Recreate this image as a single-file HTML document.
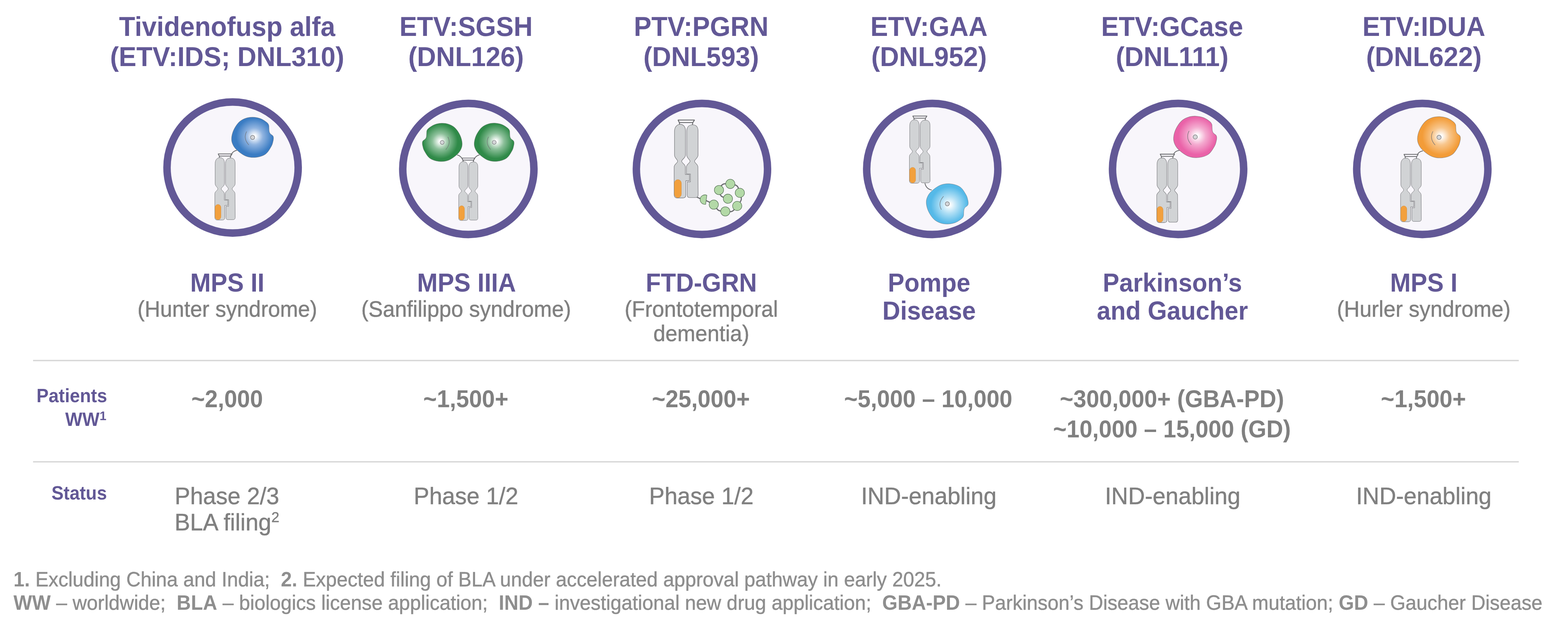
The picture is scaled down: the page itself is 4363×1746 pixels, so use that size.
<!DOCTYPE html>
<html lang="en"><head><meta charset="utf-8"><title>Denali pipeline</title>
<style>
html,body{margin:0;padding:0;background:#ffffff;}
body{width:4363px;height:1746px;position:relative;overflow:hidden;font-family:"Liberation Sans",Arial,Helvetica,sans-serif;}
.g{position:absolute;left:0;top:0;}
.t{position:absolute;white-space:nowrap;}
.ln{display:inline-block;}
.rule{position:absolute;left:92px;width:4134px;height:4.4px;background:#d9d9d9;}
sup{line-height:0;}
.rg{-webkit-text-stroke:0.7px currentColor;}
.rg b{-webkit-text-stroke:0;}
.s1{font-size:0.68em;vertical-align:0.44em;}
.s2{font-size:0.62em;vertical-align:0.55em;}
</style></head>
<body>
<svg class="g" width="4363" height="1746" viewBox="0 0 4363 1746">
<defs>
<path id="enz" d="M 1.80 -56.30 C 8.58 -56.08 15.98 -54.60 22.10 -52.30 C 28.22 -50.00 34.75 -45.38 38.50 -42.50 C 42.25 -39.62 43.42 -37.75 44.60 -35.00 C 45.78 -32.25 45.32 -29.08 45.60 -26.00 C 45.88 -22.92 45.65 -19.17 46.30 -16.50 C 46.95 -13.83 47.87 -11.95 49.50 -10.00 C 51.13 -8.05 54.67 -6.63 56.10 -4.80 C 57.53 -2.97 57.95 -1.55 58.10 1.00 C 58.25 3.55 58.02 6.48 57.00 10.50 C 55.98 14.52 55.55 19.05 52.00 25.10 C 48.45 31.15 42.93 41.70 35.70 46.80 C 28.47 51.90 17.65 54.78 8.60 55.70 C -0.45 56.62 -10.00 55.58 -18.60 52.30 C -27.20 49.02 -36.90 41.43 -43.00 36.00 C -49.10 30.57 -52.60 25.37 -55.20 19.70 C -57.80 14.03 -59.05 8.78 -58.60 2.00 C -58.15 -4.78 -56.00 -13.53 -52.50 -21.00 C -49.00 -28.47 -43.25 -37.37 -37.60 -42.80 C -31.95 -48.23 -25.17 -51.35 -18.60 -53.60 C -12.03 -55.85 -4.98 -56.52 1.80 -56.30 Z"/>
<g id="ab">
<path d="M 10.9 0.3 L 14.4 6.8 L 15.5 13.5 M 56.7 0.3 L 52 7.3 L 50.8 13.8 M 10.2 0.3 L 57.3 0.3 M 14.2 7.3 L 52.2 7.3" fill="none" stroke="#6d6e71" stroke-width="2.6" stroke-linejoin="round"/>
<path d="M 17.5 12.3 C 26 12.3 31.5 19 31.6 30 L 31.6 98 C 31.6 106 21 110 21 115 C 21 120 31.2 123 31.2 131 L 31.2 152 L 42.7 152 L 42.7 169.4 L 32.6 169.4 L 32.6 209 C 32.6 215 30 217.3 24 217.4 L 8 217.4 C 2 217.4 0 214 0 208 L 0 131 C 0 123 9.7 120 9.7 115 C 9.7 110 1 106 1 98 L 1 32 C 1 19 8 12.3 17.5 12.3 Z" fill="#d1d3d5" stroke="#68696c" stroke-width="1.15"/>
<path d="M 51.2 13.5 C 62 13.5 66.6 20 66.6 31 L 66.6 98 C 66.6 106 56.8 110 56.8 115 C 56.8 120 66 123 66.2 131 L 66.8 209 C 66.8 214 64 216.2 59 216.2 L 43 216.2 C 38.5 216.2 36.4 214 36.4 209 L 36.4 172.3 L 45.2 172.3 L 45.2 150.5 L 34.2 150.5 L 34.2 131 C 34.2 123 44.2 120 44.2 115 C 44.2 110 35 106 35 98 L 35 32 C 35 20 41 13.5 51.2 13.5 Z" fill="#d1d3d5" stroke="#68696c" stroke-width="1.15"/>
<rect x="0.6" y="166" width="19.6" height="50.6" rx="9.8" ry="10.5" fill="#f2a03d" stroke="#c98d45" stroke-width="0.8"/>
</g>
<radialGradient id="gBlue" gradientUnits="userSpaceOnUse" cx="5" cy="-3" r="62">
<stop offset="0" stop-color="#ffffff"/><stop offset="0.05" stop-color="#ffffff"/>
<stop offset="0.38" stop-color="#8fb3e0"/><stop offset="0.82" stop-color="#3a7cc3"/><stop offset="1" stop-color="#3a7cc3"/></radialGradient>
<radialGradient id="gGreen" gradientUnits="userSpaceOnUse" cx="5" cy="-3" r="62">
<stop offset="0" stop-color="#ffffff"/><stop offset="0.05" stop-color="#ffffff"/>
<stop offset="0.38" stop-color="#8cc09a"/><stop offset="0.82" stop-color="#2f8a48"/><stop offset="1" stop-color="#2f8a48"/></radialGradient>
<radialGradient id="gCyan" gradientUnits="userSpaceOnUse" cx="5" cy="-3" r="62">
<stop offset="0" stop-color="#ffffff"/><stop offset="0.05" stop-color="#ffffff"/>
<stop offset="0.38" stop-color="#b0dff5"/><stop offset="0.82" stop-color="#55b9e8"/><stop offset="1" stop-color="#55b9e8"/></radialGradient>
<radialGradient id="gPink" gradientUnits="userSpaceOnUse" cx="5" cy="-3" r="62">
<stop offset="0" stop-color="#ffffff"/><stop offset="0.05" stop-color="#ffffff"/>
<stop offset="0.38" stop-color="#f4abd0"/><stop offset="0.82" stop-color="#ea62a8"/><stop offset="1" stop-color="#ea62a8"/></radialGradient>
<radialGradient id="gOrange" gradientUnits="userSpaceOnUse" cx="5" cy="-3" r="62">
<stop offset="0" stop-color="#ffffff"/><stop offset="0.05" stop-color="#ffffff"/>
<stop offset="0.38" stop-color="#f8c68c"/><stop offset="0.82" stop-color="#f39c38"/><stop offset="1" stop-color="#f39c38"/></radialGradient>
</defs>
<circle cx="647.2" cy="466.5" r="182.5" fill="#f8f6fb" stroke="#625896" stroke-width="20.8"/>
<circle cx="1303.2" cy="470.5" r="182.5" fill="#f8f6fb" stroke="#625896" stroke-width="20.8"/>
<circle cx="1953.2" cy="470.5" r="182.5" fill="#f8f6fb" stroke="#625896" stroke-width="20.8"/>
<circle cx="2594.1" cy="470.5" r="182.5" fill="#f8f6fb" stroke="#625896" stroke-width="20.8"/>
<circle cx="3278.1" cy="470.5" r="182.5" fill="#f8f6fb" stroke="#625896" stroke-width="20.8"/>
<circle cx="3957.6" cy="470.5" r="182.5" fill="#f8f6fb" stroke="#625896" stroke-width="20.8"/>
<path d="M 640.9 437.6 Q 645 421 659.2 418.6" fill="none" stroke="#6d6e71" stroke-width="2.3"/>
<path d="M 1271.9 431.4 C 1280 433 1287 440 1289 450" fill="none" stroke="#6d6e71" stroke-width="2.3"/>
<path d="M 1334.1 431.4 C 1326 433 1319 440 1317 450" fill="none" stroke="#6d6e71" stroke-width="2.3"/>
<path d="M 2573.6 510.2 Q 2577 526 2592.6 529.2" fill="none" stroke="#6d6e71" stroke-width="2.3"/>
<path d="M 3265.2 429.6 Q 3270 420 3282.3 418.7" fill="none" stroke="#6d6e71" stroke-width="2.3"/>
<path d="M 3943.7 431.1 Q 3948 422 3959.2 420.2" fill="none" stroke="#6d6e71" stroke-width="2.3"/>
<path d="M 1937.00 548.00 C 1938.67 548.75 1943.43 551.12 1947.00 552.50 C 1950.57 553.88 1954.57 554.88 1958.40 556.30 C 1962.23 557.72 1965.38 558.75 1970.00 561.00 C 1974.62 563.25 1981.27 565.72 1986.10 569.80 C 1990.93 573.88 1993.65 582.35 1999.00 585.50 C 2004.35 588.65 2011.87 588.20 2018.20 588.70 C 2024.53 589.20 2031.48 591.03 2037.00 588.50 C 2042.52 585.97 2047.05 578.92 2051.30 573.50 C 2055.55 568.08 2061.28 562.08 2062.50 556.00 C 2063.72 549.92 2060.52 543.33 2058.60 537.00 C 2056.68 530.67 2055.42 522.15 2051.00 518.00 C 2046.58 513.85 2038.60 512.93 2032.10 512.10 C 2025.60 511.27 2017.25 510.15 2012.00 513.00 C 2006.75 515.85 2001.43 523.70 2000.60 529.20 C 1999.77 534.70 2002.87 541.97 2007.00 546.00 C 2011.13 550.03 2022.33 552.17 2025.40 553.40 " fill="none" stroke="#6d6e71" stroke-width="3.2"/>
<use href="#ab" transform="translate(597.8 428.4) scale(0.848)"/>
<use href="#ab" transform="translate(1276.3 440) scale(0.8)"/>
<use href="#ab" transform="translate(1875.8 334) scale(1.0)"/>
<use href="#ab" transform="translate(2530.4 322.8) scale(0.862)"/>
<use href="#ab" transform="translate(3218.6 429) scale(0.878)"/>
<use href="#ab" transform="translate(3897.1 429.6) scale(0.865)"/>
<path d="M 1966.8 543.8 A 13.2 13.2 0 1 0 1963.6 568.8 Z" fill="#b3d9a7" stroke="#4f6b50" stroke-width="1.3"/>
<circle cx="1986.1" cy="569.8" r="12.9" fill="#b3d9a7" stroke="#4f6b50" stroke-width="1.3"/>
<circle cx="2018.2" cy="588.7" r="12.9" fill="#b3d9a7" stroke="#4f6b50" stroke-width="1.3"/>
<circle cx="2051.3" cy="573.5" r="12.9" fill="#b3d9a7" stroke="#4f6b50" stroke-width="1.3"/>
<circle cx="2058.6" cy="537" r="12.9" fill="#b3d9a7" stroke="#4f6b50" stroke-width="1.3"/>
<circle cx="2032.1" cy="512.1" r="12.9" fill="#b3d9a7" stroke="#4f6b50" stroke-width="1.3"/>
<circle cx="2000.6" cy="529.2" r="12.9" fill="#b3d9a7" stroke="#4f6b50" stroke-width="1.3"/>
<circle cx="2025.4" cy="553.4" r="12.9" fill="#b3d9a7" stroke="#4f6b50" stroke-width="1.3"/>
<g transform="translate(702.9 382.6) scale(1 1)">
<use href="#enz" fill="url(#gBlue)" stroke="#6d6e71" stroke-opacity="0.75" stroke-width="1"/>
<circle cx="0" cy="0" r="5.8" fill="#d4d5d8" stroke="#6d6e71" stroke-width="1.2"/>
<path d="M -16.6 -16.3 Q -27 3 -10.5 21" fill="none" stroke="#6d6e71" stroke-width="1.2"/>
</g>
<g transform="translate(1230.3 396.6) scale(-0.95 0.95)">
<use href="#enz" fill="url(#gGreen)" stroke="#6d6e71" stroke-opacity="0.75" stroke-width="1"/>
<circle cx="0" cy="0" r="5.8" fill="#d4d5d8" stroke="#6d6e71" stroke-width="1.2"/>
<path d="M -16.6 -16.3 Q -27 3 -10.5 21" fill="none" stroke="#6d6e71" stroke-width="1.2"/>
</g>
<g transform="translate(1375.2 396.3) scale(0.95 0.95)">
<use href="#enz" fill="url(#gGreen)" stroke="#6d6e71" stroke-opacity="0.75" stroke-width="1"/>
<circle cx="0" cy="0" r="5.8" fill="#d4d5d8" stroke="#6d6e71" stroke-width="1.2"/>
<path d="M -16.6 -16.3 Q -27 3 -10.5 21" fill="none" stroke="#6d6e71" stroke-width="1.2"/>
</g>
<g transform="translate(2636 567.6) scale(1 -1)">
<use href="#enz" fill="url(#gCyan)" stroke="#6d6e71" stroke-opacity="0.75" stroke-width="1"/>
<circle cx="0" cy="0" r="5.8" fill="#d4d5d8" stroke="#6d6e71" stroke-width="1.2"/>
<path d="M -16.6 -16.3 Q -27 3 -10.5 21" fill="none" stroke="#6d6e71" stroke-width="1.2"/>
</g>
<g transform="translate(3325.8 381.4) scale(1.03 1.03)">
<use href="#enz" fill="url(#gPink)" stroke="#6d6e71" stroke-opacity="0.75" stroke-width="1"/>
<circle cx="0" cy="0" r="5.8" fill="#d4d5d8" stroke="#6d6e71" stroke-width="1.2"/>
<path d="M -16.6 -16.3 Q -27 3 -10.5 21" fill="none" stroke="#6d6e71" stroke-width="1.2"/>
</g>
<g transform="translate(4004.2 382.4) scale(1.025 1.025)">
<use href="#enz" fill="url(#gOrange)" stroke="#6d6e71" stroke-opacity="0.75" stroke-width="1"/>
<circle cx="0" cy="0" r="5.8" fill="#d4d5d8" stroke="#6d6e71" stroke-width="1.2"/>
<path d="M -16.6 -16.3 Q -27 3 -10.5 21" fill="none" stroke="#6d6e71" stroke-width="1.2"/>
</g>
</svg>
<div class="rule" style="top:1002px"></div>
<div class="rule" style="top:1283.5px"></div>
<div class="t" style="left:-68.0px;width:1400px;text-align:center;top:34.0px;font-size:73.3px;line-height:83.7px;font-weight:700;color:#625896;"><span class="ln" style="transform:scaleY(1.045);transform-origin:50% 66.0px">Tividenofusp alfa</span><br><span class="ln" style="transform:scaleY(1.045);transform-origin:50% 66.0px">(ETV:IDS; DNL310)</span></div>
<div class="t" style="left:596.8px;width:1400px;text-align:center;top:34.0px;font-size:73.3px;line-height:83.7px;font-weight:700;color:#625896;"><span class="ln" style="transform:scaleY(1.045);transform-origin:50% 66.0px">ETV:SGSH</span><br><span class="ln" style="transform:scaleY(1.045);transform-origin:50% 66.0px">(DNL126)</span></div>
<div class="t" style="left:1251.0px;width:1400px;text-align:center;top:34.0px;font-size:73.3px;line-height:83.7px;font-weight:700;color:#625896;"><span class="ln" style="transform:scaleY(1.045);transform-origin:50% 66.0px">PTV:PGRN</span><br><span class="ln" style="transform:scaleY(1.045);transform-origin:50% 66.0px">(DNL593)</span></div>
<div class="t" style="left:1885.0px;width:1400px;text-align:center;top:34.0px;font-size:73.3px;line-height:83.7px;font-weight:700;color:#625896;"><span class="ln" style="transform:scaleY(1.045);transform-origin:50% 66.0px">ETV:GAA</span><br><span class="ln" style="transform:scaleY(1.045);transform-origin:50% 66.0px">(DNL952)</span></div>
<div class="t" style="left:2561.5px;width:1400px;text-align:center;top:34.0px;font-size:73.3px;line-height:83.7px;font-weight:700;color:#625896;"><span class="ln" style="transform:scaleY(1.045);transform-origin:50% 66.0px">ETV:GCase</span><br><span class="ln" style="transform:scaleY(1.045);transform-origin:50% 66.0px">(DNL111)</span></div>
<div class="t" style="left:3262.0px;width:1400px;text-align:center;top:34.0px;font-size:73.3px;line-height:83.7px;font-weight:700;color:#625896;"><span class="ln" style="transform:scaleY(1.045);transform-origin:50% 66.0px">ETV:IDUA</span><br><span class="ln" style="transform:scaleY(1.045);transform-origin:50% 66.0px">(DNL622)</span></div>
<div class="t" style="left:-67.5px;width:1400px;text-align:center;top:750.0px;font-size:68.8px;line-height:78.2px;font-weight:700;color:#625896;"><span class="ln" style="transform:scaleY(1.05);transform-origin:50% 62.0px">MPS II</span></div>
<div class="t rg" style="left:-67.5px;width:1400px;text-align:center;top:828.0px;font-size:60px;line-height:68.3px;font-weight:400;color:#808080;"><span class="ln" style="transform:scaleY(1.04);transform-origin:50% 54.0px">(Hunter syndrome)</span></div>
<div class="t" style="left:598.0px;width:1400px;text-align:center;top:750.0px;font-size:68.8px;line-height:78.2px;font-weight:700;color:#625896;"><span class="ln" style="transform:scaleY(1.05);transform-origin:50% 62.0px">MPS IIIA</span></div>
<div class="t rg" style="left:597.1px;width:1400px;text-align:center;top:828.0px;font-size:60px;line-height:68.3px;font-weight:400;color:#808080;"><span class="ln" style="transform:scaleY(1.04);transform-origin:50% 54.0px">(Sanfilippo syndrome)</span></div>
<div class="t" style="left:1251.5px;width:1400px;text-align:center;top:750.0px;font-size:68.8px;line-height:78.2px;font-weight:700;color:#625896;"><span class="ln" style="transform:scaleY(1.05);transform-origin:50% 62.0px">FTD-GRN</span></div>
<div class="t rg" style="left:1251.5px;width:1400px;text-align:center;top:828.0px;font-size:60px;line-height:68.3px;font-weight:400;color:#808080;"><span class="ln" style="transform:scaleY(1.04);transform-origin:50% 54.0px">(Frontotemporal</span><br><span class="ln" style="transform:scaleY(1.04);transform-origin:50% 54.0px">dementia)</span></div>
<div class="t" style="left:1885.3px;width:1400px;text-align:center;top:750.0px;font-size:68.8px;line-height:78.2px;font-weight:700;color:#625896;"><span class="ln" style="transform:scaleY(1.05);transform-origin:50% 62.0px">Pompe</span><br><span class="ln" style="transform:scaleY(1.05);transform-origin:50% 62.0px">Disease</span></div>
<div class="t" style="left:2562.3px;width:1400px;text-align:center;top:750.0px;font-size:68.8px;line-height:78.2px;font-weight:700;color:#625896;"><span class="ln" style="transform:scaleY(1.05);transform-origin:50% 62.0px">Parkinson’s</span><br><span class="ln" style="transform:scaleY(1.05);transform-origin:50% 62.0px">and Gaucher</span></div>
<div class="t" style="left:3261.6px;width:1400px;text-align:center;top:750.0px;font-size:68.8px;line-height:78.2px;font-weight:700;color:#625896;"><span class="ln" style="transform:scaleY(1.05);transform-origin:50% 62.0px">MPS I</span></div>
<div class="t rg" style="left:3261.6px;width:1400px;text-align:center;top:828.0px;font-size:60px;line-height:68.3px;font-weight:400;color:#808080;"><span class="ln" style="transform:scaleY(1.04);transform-origin:50% 54.0px">(Hurler syndrome)</span></div>
<div class="t" style="right:4065.0px;text-align:right;top:1070.0px;font-size:50.5px;line-height:65.8px;font-weight:700;color:#625896;"><span class="ln" style="transform:scaleY(1.045);transform-origin:50% 50.0px">Patients</span><br><span class="ln" style="transform:scaleY(1.045);transform-origin:50% 50.0px"><span style="margin-right:2px">WW<sup class="s1">1</sup></span></span></div>
<div class="t" style="right:4065.5px;text-align:right;top:1341.0px;font-size:50.5px;line-height:65.2px;font-weight:700;color:#625896;"><span class="ln" style="transform:scaleY(1.045);transform-origin:50% 50.0px">Status</span></div>
<div class="t" style="left:-68.0px;width:1400px;text-align:center;top:1070.0px;font-size:64.5px;line-height:84.3px;font-weight:700;color:#808080;"><span class="ln" style="transform:scaleY(1.05);transform-origin:50% 64.0px">~2,000</span></div>
<div class="t" style="left:596.2px;width:1400px;text-align:center;top:1070.0px;font-size:64.5px;line-height:84.3px;font-weight:700;color:#808080;"><span class="ln" style="transform:scaleY(1.05);transform-origin:50% 64.0px">~1,500+</span></div>
<div class="t" style="left:1250.3px;width:1400px;text-align:center;top:1070.0px;font-size:64.5px;line-height:84.3px;font-weight:700;color:#808080;"><span class="ln" style="transform:scaleY(1.05);transform-origin:50% 64.0px">~25,000+</span></div>
<div class="t" style="left:1882.9px;width:1400px;text-align:center;top:1070.0px;font-size:64.5px;line-height:84.3px;font-weight:700;color:#808080;"><span class="ln" style="transform:scaleY(1.05);transform-origin:50% 64.0px">~5,000 – 10,000</span></div>
<div class="t" style="left:2561.0px;width:1400px;text-align:center;top:1070.0px;font-size:64.5px;line-height:84.3px;font-weight:700;color:#808080;"><span class="ln" style="transform:scaleY(1.05);transform-origin:50% 64.0px">~300,000+ (GBA-PD)</span><br><span class="ln" style="transform:scaleY(1.05);transform-origin:50% 64.0px">~10,000 – 15,000 (GD)</span></div>
<div class="t" style="left:3260.7px;width:1400px;text-align:center;top:1070.0px;font-size:64.5px;line-height:84.3px;font-weight:700;color:#808080;"><span class="ln" style="transform:scaleY(1.05);transform-origin:50% 64.0px">~1,500+</span></div>
<div class="t rg" style="left:-68.5px;width:1400px;text-align:center;top:1346.0px;font-size:64.6px;line-height:73.2px;font-weight:400;color:#808080;"><span class="ln" style="transform:scaleY(1.03);transform-origin:50% 58.0px">Phase 2/3</span><br><span class="ln" style="transform:scaleY(1.03);transform-origin:50% 58.0px">BLA filing<sup class="s2">2</sup></span></div>
<div class="t rg" style="left:596.8px;width:1400px;text-align:center;top:1346.0px;font-size:64.6px;line-height:73.2px;font-weight:400;color:#808080;"><span class="ln" style="transform:scaleY(1.03);transform-origin:50% 58.0px">Phase 1/2</span></div>
<div class="t rg" style="left:1251.5px;width:1400px;text-align:center;top:1346.0px;font-size:64.6px;line-height:73.2px;font-weight:400;color:#808080;"><span class="ln" style="transform:scaleY(1.03);transform-origin:50% 58.0px">Phase 1/2</span></div>
<div class="t rg" style="left:1884.4px;width:1400px;text-align:center;top:1346.0px;font-size:64.6px;line-height:73.2px;font-weight:400;color:#808080;"><span class="ln" style="transform:scaleY(1.03);transform-origin:50% 58.0px">IND-enabling</span></div>
<div class="t rg" style="left:2562.9px;width:1400px;text-align:center;top:1346.0px;font-size:64.6px;line-height:73.2px;font-weight:400;color:#808080;"><span class="ln" style="transform:scaleY(1.03);transform-origin:50% 58.0px">IND-enabling</span></div>
<div class="t rg" style="left:3261.8px;width:1400px;text-align:center;top:1346.0px;font-size:64.6px;line-height:73.2px;font-weight:400;color:#808080;"><span class="ln" style="transform:scaleY(1.03);transform-origin:50% 58.0px">IND-enabling</span></div>
<div class="t rg" style="left:37.5px;text-align:left;top:1582.0px;font-size:54.85px;line-height:65.3px;font-weight:400;color:#8e8e8e;white-space:nowrap;"><span class="ln" style="transform:scaleY(1.045);transform-origin:50% 51.0px"><b>1.</b> Excluding China and India;&nbsp; <b>2.</b> Expected filing of BLA under accelerated approval pathway in early 2025.</span><br><span class="ln" style="transform:scaleY(1.045);transform-origin:50% 51.0px"><b>WW</b> – worldwide;&nbsp; <b>BLA</b> – biologics license application;&nbsp; <b>IND –</b> investigational new drug application;&nbsp; <b>GBA-PD</b> – Parkinson’s Disease with GBA mutation; <b>GD</b> – Gaucher Disease</span></div>
</body></html>
